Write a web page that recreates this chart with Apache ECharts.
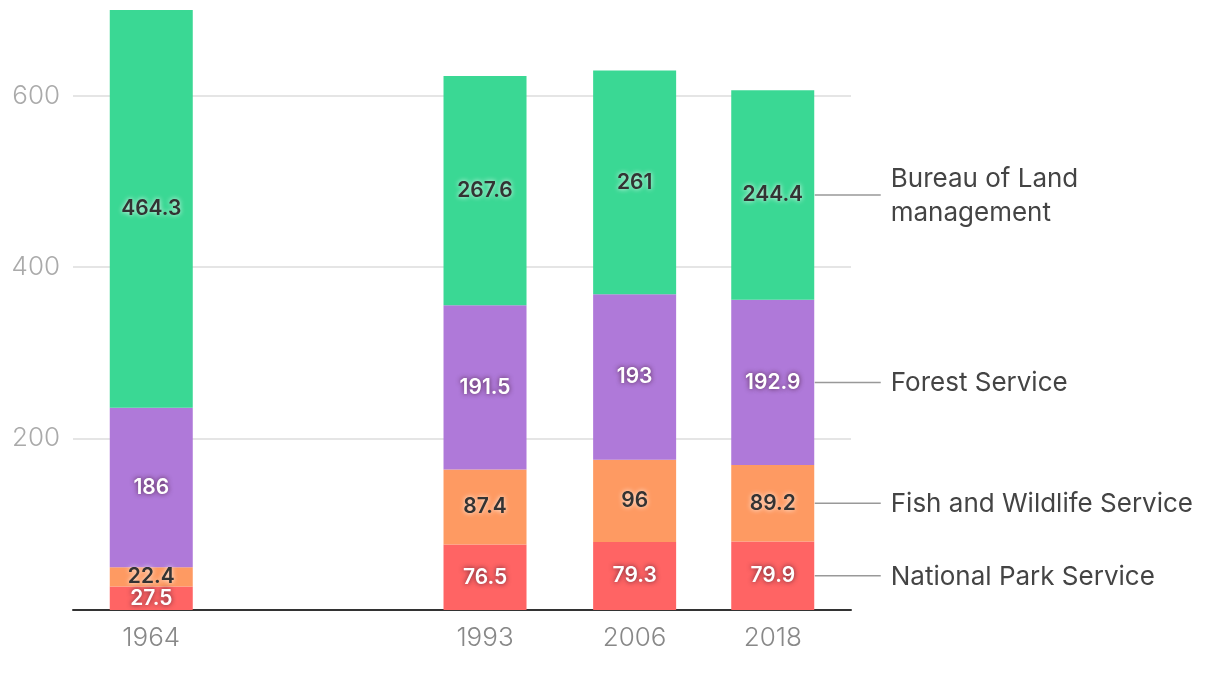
<!DOCTYPE html>
<html>
<head>
<meta charset="utf-8">
<script src="https://cdn.jsdelivr.net/npm/echarts@6/dist/echarts.min.js"></script>
<style>
  html, body { margin: 0; padding: 0; background: #fff; }
  #main { width: 1220px; height: 676px; }
</style>
</head>
<body>
<div id="main"></div>
<script>
// 数据
var years = [1964, 1993, 2006, 2018];
var parkService = [27.5, 76.5, 79.3, 79.9];
var wildlifeService = [22.4, 87.4, 96, 89.2];
var forestService = [186, 191.5, 193, 192.9];
var landManagement = [464.3, 267.6, 261, 244.4];
var agencyNames = ['National Park Service', 'Fish and Wildlife Service', 'Forest Service', 'Bureau of Land\nmanagement'];
var yTicks = [200, 400, 600];

(function() {
    var myChart = echarts.init(document.getElementById('main'));
    var groups = [parkService, wildlifeService, forestService, landManagement];
    var colors = ['#ff6464', '#fe9a62', '#af79d9', '#3ad894'];
    var darkText = [false, true, false, true];
    var font = 'Inter, Roboto, "Helvetica Neue", Arial, sans-serif';

    // 堆叠柱 (数值放第一维, 让 y 成为堆叠维度)
    var series = groups.map(function(vals, i) {
        return {
            type: 'bar',
            stack: 'total',
            name: agencyNames[i],
            barWidth: 83,
            encode: { x: 1, y: 0 },
            itemStyle: { color: colors[i] },
            label: {
                show: true,
                position: 'inside',
                formatter: function(p) { return p.value[0]; },
                fontFamily: font,
                fontSize: 21,
                fontWeight: 600,
                color: darkText[i] ? '#333' : '#fff',
                textShadowColor: darkText[i] ? 'rgba(255,255,255,0.9)' : 'rgba(60,20,40,0.8)',
                textShadowBlur: 5
            },
            data: years.map(function(y, j) { return [vals[j], y]; })
        };
    });

    // 右侧标签 (最后一年的中点)
    var last = years.length - 1;
    var base = 0;
    var legendData = groups.map(function(vals, i) {
        var mid = base + vals[last] / 2;
        base += vals[last];
        return [years[last], mid, agencyNames[i]];
    });
    series.push({
        type: 'custom',
        clip: false,
        silent: true,
        data: legendData,
        renderItem: function(params, api) {
            var p = api.coord([api.value(0), api.value(1)]);
            var name = legendData[params.dataIndex][2];
            return {
                type: 'group',
                children: [{
                    type: 'line',
                    shape: { x1: p[0] + 42, y1: p[1], x2: p[0] + 108, y2: p[1] },
                    style: { stroke: '#999', lineWidth: 1.5 }
                }, {
                    type: 'text',
                    x: p[0] + 118,
                    y: p[1] + 1,
                    style: {
                        text: name,
                        fill: '#444',
                        font: '400 26px ' + font,
                        lineHeight: 34,
                        verticalAlign: 'middle',
                        align: 'left'
                    }
                }]
            };
        }
    });

    var option = {
        animation: false,
        grid: { left: 73, top: 10, width: 778, height: 600, containLabel: false },
        xAxis: {
            type: 'value',
            min: 1957.2,
            max: 2024.8,
            splitLine: { show: false },
            axisTick: { show: false },
            axisLine: { show: true, lineStyle: { color: '#333', width: 2 } },
            axisLabel: {
                customValues: years,
                formatter: function(v) { return String(v); },
                color: '#888',
                fontFamily: font,
                fontSize: 26,
                fontWeight: 300,
                margin: 15
            }
        },
        yAxis: {
            type: 'value',
            min: 0,
            max: 700,
            interval: 200,
            axisLine: { show: false },
            axisTick: { show: false },
            axisLabel: {
                customValues: yTicks,
                color: '#aaa',
                fontFamily: font,
                fontSize: 26,
                fontWeight: 300,
                margin: 13
            },
            splitLine: {
                show: true,
                showMinLine: false,
                showMaxLine: false,
                lineStyle: { color: '#ddd', width: 1.5 }
            }
        },
        series: series
    };
    // 把配置给实例对象
    myChart.setOption(option);
})();
</script>
</body>
</html>
